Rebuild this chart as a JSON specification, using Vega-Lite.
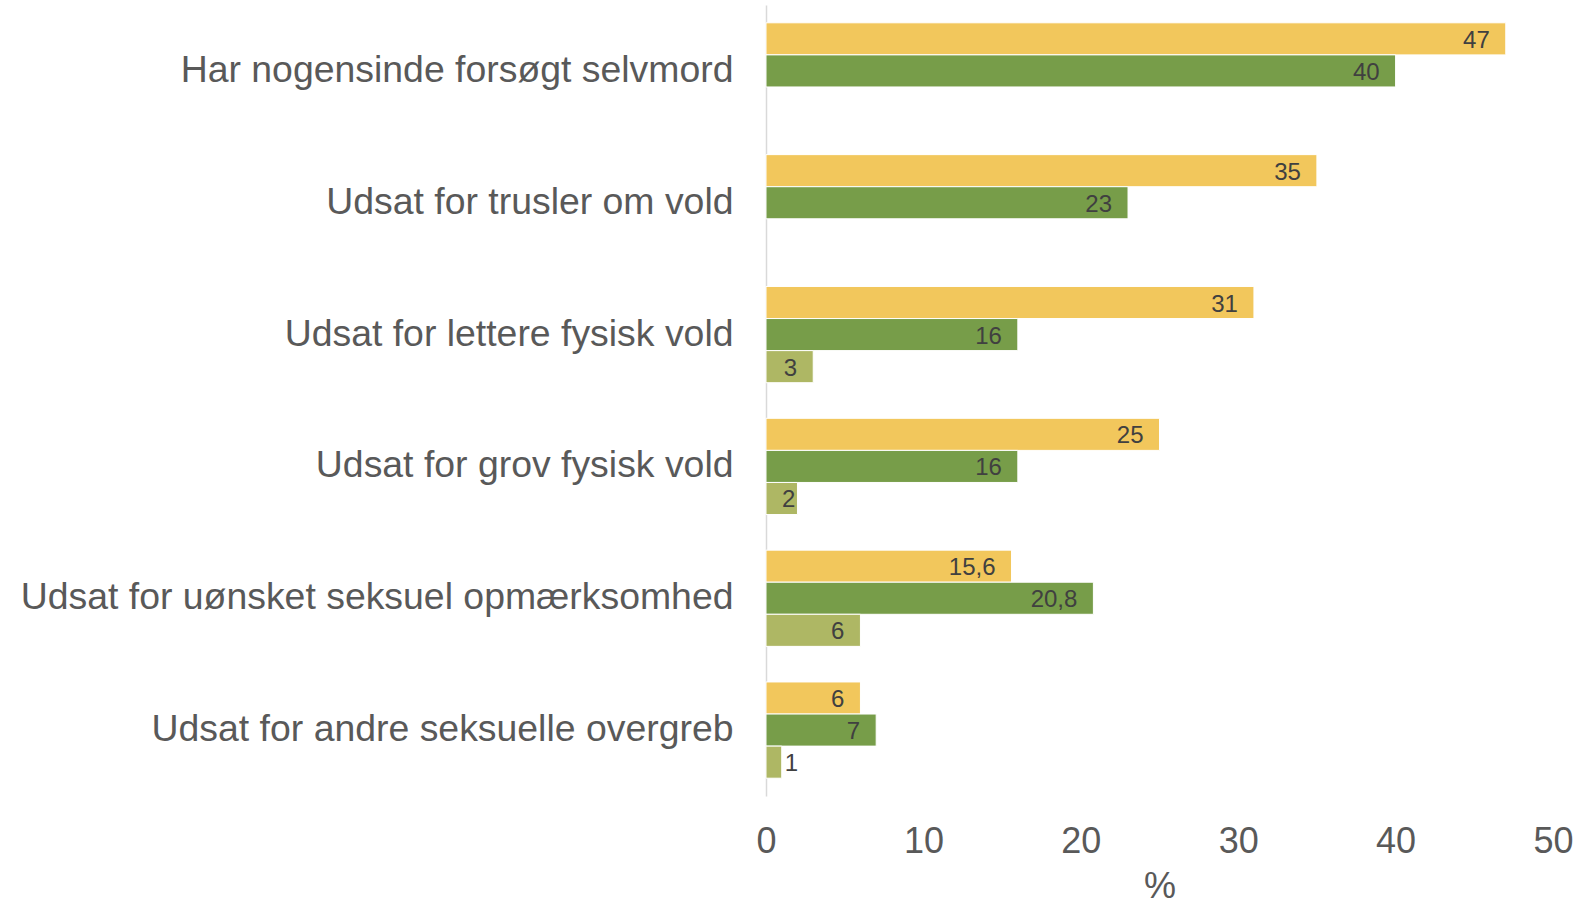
{
  "$schema": "https://vega.github.io/schema/vega-lite/v6.json",
  "autosize": {"type": "none"},
  "padding": {"left": 766, "top": 5, "right": 40, "bottom": 109},
  "width": 787,
  "height": 791,
  "background": "white",
  "config": {
    "view": {"stroke": null},
    "font": "Liberation Sans",
    "locale": {"number": {"decimal": ",", "thousands": ".", "grouping": [3], "currency": ["", " kr."]}}
  },
  "data": {
    "values": [
      {"kategori": "Har nogensinde forsøgt selvmord", "serie": "1", "pct": 47},
      {"kategori": "Har nogensinde forsøgt selvmord", "serie": "2", "pct": 40},
      {"kategori": "Udsat for trusler om vold", "serie": "1", "pct": 35},
      {"kategori": "Udsat for trusler om vold", "serie": "2", "pct": 23},
      {"kategori": "Udsat for lettere fysisk vold", "serie": "1", "pct": 31},
      {"kategori": "Udsat for lettere fysisk vold", "serie": "2", "pct": 16},
      {"kategori": "Udsat for lettere fysisk vold", "serie": "3", "pct": 3},
      {"kategori": "Udsat for grov fysisk vold", "serie": "1", "pct": 25},
      {"kategori": "Udsat for grov fysisk vold", "serie": "2", "pct": 16},
      {"kategori": "Udsat for grov fysisk vold", "serie": "3", "pct": 2},
      {"kategori": "Udsat for uønsket seksuel opmærksomhed", "serie": "1", "pct": 15.6},
      {"kategori": "Udsat for uønsket seksuel opmærksomhed", "serie": "2", "pct": 20.8},
      {"kategori": "Udsat for uønsket seksuel opmærksomhed", "serie": "3", "pct": 6},
      {"kategori": "Udsat for andre seksuelle overgreb", "serie": "1", "pct": 6},
      {"kategori": "Udsat for andre seksuelle overgreb", "serie": "2", "pct": 7},
      {"kategori": "Udsat for andre seksuelle overgreb", "serie": "3", "pct": 1}
    ]
  },
  "encoding": {
    "y": {
      "field": "kategori", "type": "nominal", "sort": null,
      "scale": {"paddingInner": 0.27, "paddingOuter": 0.135},
      "axis": {
        "title": null, "ticks": false, "grid": false,
        "domainColor": "#d9d9d9", "domainWidth": 1.5,
        "labelFontSize": 37.4, "labelColor": "#595959", "labelPadding": 33,
        "labelLimit": 800
      }
    },
    "yOffset": {
      "field": "serie", "type": "nominal",
      "scale": {"domain": ["1", "2", "3"], "paddingInner": 0, "paddingOuter": 0}
    },
    "x": {
      "field": "pct", "type": "quantitative",
      "scale": {"domain": [0, 50], "nice": false},
      "axis": {
        "title": "%", "titleFontSize": 36, "titleFontWeight": "normal", "titleColor": "#595959",
        "titlePadding": 10,
        "values": [0, 10, 20, 30, 40, 50],
        "domain": false, "ticks": false, "grid": false,
        "labelFontSize": 36, "labelColor": "#595959", "labelPadding": 28,
        "labelFlush": false
      }
    }
  },
  "layer": [
    {
      "mark": {"type": "bar", "stroke": "white", "strokeWidth": 1},
      "encoding": {
        "color": {
          "field": "serie", "type": "nominal", "legend": null,
          "scale": {"domain": ["1", "2", "3"], "range": ["#F2C75C", "#779D49", "#AEB764"]}
        }
      }
    },
    {
      "transform": [{"filter": "datum.pct >= 3"}],
      "mark": {"type": "text", "align": "right", "baseline": "middle", "dx": -16, "dy": 2, "fontSize": 24, "color": "#404040"},
      "encoding": {"text": {"field": "pct", "type": "quantitative", "format": ".1~f"}}
    },
    {
      "transform": [{"filter": "datum.pct >= 1.5 && datum.pct < 3"}],
      "mark": {"type": "text", "align": "right", "baseline": "middle", "dx": -2, "dy": 2, "fontSize": 24, "color": "#404040"},
      "encoding": {"text": {"field": "pct", "type": "quantitative", "format": ".1~f"}}
    },
    {
      "transform": [{"filter": "datum.pct < 1.5"}],
      "mark": {"type": "text", "align": "left", "baseline": "middle", "dx": 3, "dy": 2, "fontSize": 24, "color": "#404040"},
      "encoding": {"text": {"field": "pct", "type": "quantitative", "format": ".1~f"}}
    }
  ]
}
